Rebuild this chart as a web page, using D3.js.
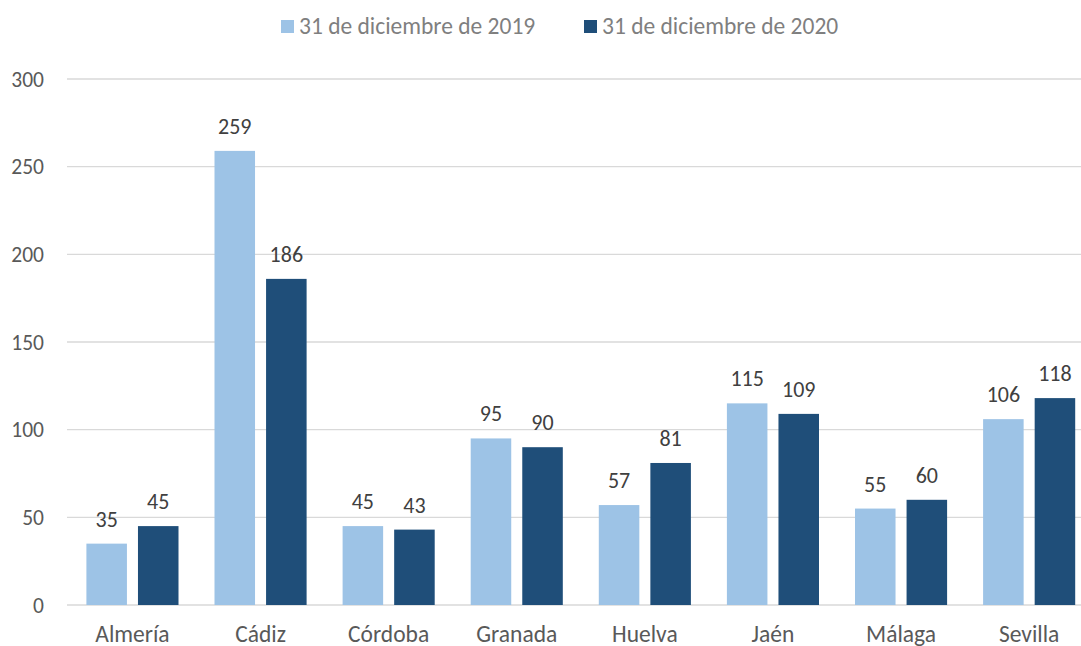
<!DOCTYPE html>
<html>
<head>
<meta charset="utf-8">
<script src="https://cdn.jsdelivr.net/npm/d3@7"></script>
<style>
  html, body { margin: 0; padding: 0; background: #fff; overflow: hidden; }
  svg { display: block; }
</style>
</head>
<body>
<div id="chart"></div>
<script>
// Data
const provincias = ["Almería", "Cádiz", "Córdoba", "Granada", "Huelva", "Jaén", "Málaga", "Sevilla"];
const series = ["31 de diciembre de 2019", "31 de diciembre de 2020"];
const valores2019 = [35, 259, 45, 95, 57, 115, 55, 106];
const valores2020 = [45, 186, 43, 90, 81, 109, 60, 118];
const yTicks = [0, 50, 100, 150, 200, 250, 300];

const width = 1081;
const height = 646;
const font = "Carlito, Lato, 'Open Sans', sans-serif";

const colors = d3.scaleOrdinal().domain(series).range(["#9DC3E6", "#1F4E79"]);

const svg = d3.select("#chart")
  .append("svg")
    .attr("width", width)
    .attr("height", height)
    .style("font-family", font);

// Scales
const x = d3.scaleBand()
  .domain(provincias)
  .range([68.4, 1093.2])
  .padding(0);

const xInner = d3.scaleBand()
  .domain(series)
  .range([18, x.bandwidth() - 18])
  .paddingInner(0.214);

const y = d3.scaleLinear()
  .domain([0, 300])
  .range([605, 79]);

// Gridlines
svg.append("g")
  .selectAll("line")
  .data(yTicks)
  .join("line")
    .attr("x1", 67)
    .attr("x2", width)
    .attr("y1", d => y(d))
    .attr("y2", d => y(d))
    .attr("stroke", "#d9d9d9")
    .attr("stroke-width", 1.4);

// Y axis labels
svg.append("g")
  .selectAll("text")
  .data(yTicks)
  .join("text")
    .attr("x", 44)
    .attr("y", d => y(d))
    .attr("dy", "0.36em")
    .attr("text-anchor", "end")
    .attr("fill", "#595959")
    .style("font-size", "21.5px")
    .text(d => d);

// Bars
const rows = provincias.map((p, i) => ({
  provincia: p,
  values: [
    { serie: series[0], value: valores2019[i] },
    { serie: series[1], value: valores2020[i] }
  ]
}));

const groups = svg.append("g")
  .selectAll("g")
  .data(rows)
  .join("g")
    .attr("transform", d => `translate(${x(d.provincia)},0)`);

groups.selectAll("rect")
  .data(d => d.values)
  .join("rect")
    .attr("x", d => xInner(d.serie))
    .attr("y", d => y(d.value))
    .attr("width", xInner.bandwidth())
    .attr("height", d => y(0) - y(d.value))
    .attr("fill", d => colors(d.serie));

// Value labels
groups.selectAll("text")
  .data(d => d.values)
  .join("text")
    .attr("x", d => xInner(d.serie) + xInner.bandwidth() / 2)
    .attr("y", d => y(d.value) - 17)
    .attr("text-anchor", "middle")
    .attr("fill", "#404040")
    .style("font-size", "22px")
    .text(d => d.value);

// Category labels
svg.append("g")
  .selectAll("text")
  .data(provincias)
  .join("text")
    .attr("x", d => x(d) + x.bandwidth() / 2)
    .attr("y", 642)
    .attr("text-anchor", "middle")
    .attr("fill", "#595959")
    .style("font-size", "23.5px")
    .text(d => d);

// Legend
const legendX = [281, 584];
const legend = svg.append("g")
  .selectAll("g")
  .data(series)
  .join("g")
    .attr("transform", (d, i) => `translate(${legendX[i]},20)`);

legend.append("rect")
  .attr("width", 13)
  .attr("height", 13)
  .attr("fill", d => colors(d));

legend.append("text")
  .attr("x", 18)
  .attr("y", 14)
  .attr("fill", "#7f7f7f")
  .style("font-size", "23.5px")
  .text(d => d);
</script>
</body>
</html>
